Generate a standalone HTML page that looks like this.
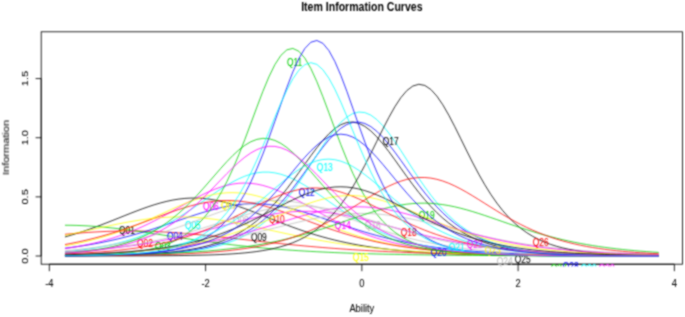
<!DOCTYPE html><html><head><meta charset="utf-8"><style>html,body{margin:0;padding:0;background:#fff;width:685px;height:317px;overflow:hidden}svg{display:block}text{font-family:"Liberation Sans",sans-serif}</style></head><body>
<svg width="685" height="317" viewBox="0 0 685 317">
<defs>
<filter id="bl" filterUnits="userSpaceOnUse" x="0" y="0" width="685" height="317" color-interpolation-filters="sRGB"><feConvolveMatrix order="3" kernelMatrix="1 2 1 2 6 2 1 2 1" divisor="18" edgeMode="duplicate"/></filter>
<filter id="tb" filterUnits="userSpaceOnUse" x="0" y="0" width="685" height="317" color-interpolation-filters="sRGB"><feConvolveMatrix order="3" kernelMatrix="1 2 1 2 8 2 1 2 1" divisor="20" edgeMode="none"/></filter>
<clipPath id="pr"><rect x="41.20" y="31.80" width="641.30" height="232.40"/></clipPath>
<clipPath id="pl"><rect x="41.20" y="31.80" width="641.30" height="234.70"/></clipPath>
</defs>
<g filter="url(#bl)"><rect width="685" height="317" fill="#fff"/>
<rect x="41.20" y="31.80" width="641.30" height="232.40" fill="none" stroke="#000" stroke-width="0.85"/>
<path d="M49.33 264.20H674.37M41.20 256.00V78.59M49.33 264.20V271.20M205.59 264.20V271.20M361.85 264.20V271.20M518.11 264.20V271.20M674.37 264.20V271.20M41.20 256.00H35.60M41.20 196.87H35.60M41.20 137.73H35.60M41.20 78.59H35.60" stroke="#000" stroke-width="0.85" fill="none"/>
<polyline clip-path="url(#pr)" fill="none" stroke-width="0.80" stroke-linejoin="round" points="64.96,236.96 70.95,235.23 76.95,233.38 82.95,231.43 88.95,229.38 94.95,227.23 100.94,224.99 106.94,222.69 112.94,220.33 118.94,217.94 124.93,215.54 130.93,213.17 136.93,210.85 142.93,208.62 148.93,206.51 154.92,204.57 160.92,202.82 166.92,201.30 172.92,200.04 178.92,199.08 184.91,198.42 190.91,198.09 196.91,198.09 202.91,198.43 208.90,199.09 214.90,200.06 220.90,201.32 226.90,202.84 232.90,204.59 238.89,206.54 244.89,208.65 250.89,210.88 256.89,213.20 262.89,215.58 268.88,217.97 274.88,220.36 280.88,222.72 286.88,225.02 292.87,227.25 298.87,229.40 304.87,231.46 310.87,233.41 316.87,235.25 322.86,236.98 328.86,238.60 334.86,240.11 340.86,241.51 346.86,242.81 352.85,244.00 358.85,245.11 364.85,246.12 370.85,247.04 376.84,247.89 382.84,248.66 388.84,249.36 394.84,250.00 400.84,250.59 406.83,251.11 412.83,251.59 418.83,252.03 424.83,252.42 430.83,252.77 436.82,253.09 442.82,253.38 448.82,253.64 454.82,253.88 460.81,254.09 466.81,254.28 472.81,254.46 478.81,254.61 484.81,254.75 490.80,254.88 496.80,254.99 502.80,255.09 508.80,255.18 514.80,255.27 520.79,255.34 526.79,255.41 532.79,255.47 538.79,255.52 544.78,255.57 550.78,255.61 556.78,255.65 562.78,255.69 568.78,255.72 574.77,255.75 580.77,255.77 586.77,255.80 592.77,255.82 598.77,255.84 604.76,255.85 610.76,255.87 616.76,255.88 622.76,255.89 628.75,255.90 634.75,255.91 640.75,255.92 646.75,255.93 652.75,255.94 658.74,255.94" stroke="#000000"/>
<g clip-path="url(#pl)"><text font-size="10.50" stroke-width="0.08" transform="translate(118.94 233.80) scale(0.800 1)" fill="#000000" stroke="#000000">Q01</text></g>
<polyline clip-path="url(#pr)" fill="none" stroke-width="0.80" stroke-linejoin="round" points="64.96,234.29 70.95,233.75 76.95,233.25 82.95,232.79 88.95,232.37 94.95,232.00 100.94,231.68 106.94,231.42 112.94,231.22 118.94,231.08 124.93,230.99 130.93,230.98 136.93,231.02 142.93,231.12 148.93,231.29 154.92,231.51 160.92,231.80 166.92,232.13 172.92,232.52 178.92,232.96 184.91,233.43 190.91,233.95 196.91,234.51 202.91,235.09 208.90,235.70 214.90,236.34 220.90,236.99 226.90,237.65 232.90,238.33 238.89,239.00 244.89,239.68 250.89,240.36 256.89,241.04 262.89,241.70 268.88,242.36 274.88,243.00 280.88,243.63 286.88,244.24 292.87,244.84 298.87,245.42 304.87,245.97 310.87,246.51 316.87,247.03 322.86,247.53 328.86,248.00 334.86,248.46 340.86,248.89 346.86,249.31 352.85,249.70 358.85,250.08 364.85,250.43 370.85,250.77 376.84,251.09 382.84,251.39 388.84,251.68 394.84,251.95 400.84,252.20 406.83,252.44 412.83,252.67 418.83,252.88 424.83,253.08 430.83,253.27 436.82,253.45 442.82,253.61 448.82,253.77 454.82,253.91 460.81,254.05 466.81,254.18 472.81,254.30 478.81,254.41 484.81,254.51 490.80,254.61 496.80,254.71 502.80,254.79 508.80,254.87 514.80,254.95 520.79,255.02 526.79,255.08 532.79,255.14 538.79,255.20 544.78,255.26 550.78,255.31 556.78,255.35 562.78,255.40 568.78,255.44 574.77,255.47 580.77,255.51 586.77,255.54 592.77,255.57 598.77,255.60 604.76,255.63 610.76,255.65 616.76,255.68 622.76,255.70 628.75,255.72 634.75,255.74 640.75,255.76 646.75,255.77 652.75,255.79 658.74,255.80" stroke="#FF0000"/>
<g clip-path="url(#pl)"><text font-size="10.50" stroke-width="0.08" transform="translate(136.93 246.88) scale(0.800 1)" fill="#FF0000" stroke="#FF0000">Q02</text></g>
<polyline clip-path="url(#pr)" fill="none" stroke-width="0.80" stroke-linejoin="round" points="64.96,225.24 70.95,225.29 76.95,225.43 82.95,225.66 88.95,225.98 94.95,226.39 100.94,226.87 106.94,227.44 112.94,228.07 118.94,228.76 124.93,229.51 130.93,230.31 136.93,231.14 142.93,232.01 148.93,232.90 154.92,233.81 160.92,234.73 166.92,235.66 172.92,236.59 178.92,237.50 184.91,238.41 190.91,239.31 196.91,240.18 202.91,241.03 208.90,241.86 214.90,242.66 220.90,243.43 226.90,244.17 232.90,244.88 238.89,245.56 244.89,246.21 250.89,246.83 256.89,247.42 262.89,247.97 268.88,248.50 274.88,248.99 280.88,249.46 286.88,249.90 292.87,250.32 298.87,250.71 304.87,251.07 310.87,251.41 316.87,251.73 322.86,252.03 328.86,252.31 334.86,252.58 340.86,252.82 346.86,253.05 352.85,253.26 358.85,253.46 364.85,253.64 370.85,253.81 376.84,253.97 382.84,254.12 388.84,254.26 394.84,254.39 400.84,254.50 406.83,254.61 412.83,254.72 418.83,254.81 424.83,254.90 430.83,254.98 436.82,255.06 442.82,255.13 448.82,255.19 454.82,255.25 460.81,255.31 466.81,255.36 472.81,255.41 478.81,255.45 484.81,255.49 490.80,255.53 496.80,255.56 502.80,255.60 508.80,255.63 514.80,255.66 520.79,255.68 526.79,255.71 532.79,255.73 538.79,255.75 544.78,255.77 550.78,255.78 556.78,255.80 562.78,255.82 568.78,255.83 574.77,255.84 580.77,255.85 586.77,255.86 592.77,255.88 598.77,255.88 604.76,255.89 610.76,255.90 616.76,255.91 622.76,255.92 628.75,255.92 634.75,255.93 640.75,255.93 646.75,255.94 652.75,255.94 658.74,255.95" stroke="#00CD00"/>
<g clip-path="url(#pl)"><text font-size="10.50" stroke-width="0.08" transform="translate(154.92 249.67) scale(0.800 1)" fill="#00CD00" stroke="#00CD00">Q03</text></g>
<polyline clip-path="url(#pr)" fill="none" stroke-width="0.80" stroke-linejoin="round" points="64.96,248.26 70.95,247.50 76.95,246.67 82.95,245.77 88.95,244.80 94.95,243.74 100.94,242.61 106.94,241.38 112.94,240.07 118.94,238.67 124.93,237.18 130.93,235.59 136.93,233.92 142.93,232.17 148.93,230.34 154.92,228.43 160.92,226.47 166.92,224.46 172.92,222.42 178.92,220.36 184.91,218.32 190.91,216.30 196.91,214.35 202.91,212.47 208.90,210.71 214.90,209.10 220.90,207.65 226.90,206.39 232.90,205.35 238.89,204.56 244.89,204.01 250.89,203.74 256.89,203.73 262.89,203.99 268.88,204.53 274.88,205.31 280.88,206.34 286.88,207.58 292.87,209.02 298.87,210.63 304.87,212.39 310.87,214.25 316.87,216.21 322.86,218.22 328.86,220.26 334.86,222.32 340.86,224.36 346.86,226.37 352.85,228.34 358.85,230.25 364.85,232.08 370.85,233.84 376.84,235.52 382.84,237.10 388.84,238.60 394.84,240.01 400.84,241.32 406.83,242.55 412.83,243.69 418.83,244.75 424.83,245.73 430.83,246.63 436.82,247.46 442.82,248.23 448.82,248.93 454.82,249.57 460.81,250.16 466.81,250.70 472.81,251.19 478.81,251.63 484.81,252.04 490.80,252.41 496.80,252.75 502.80,253.06 508.80,253.33 514.80,253.59 520.79,253.82 526.79,254.02 532.79,254.21 538.79,254.38 544.78,254.54 550.78,254.68 556.78,254.81 562.78,254.92 568.78,255.02 574.77,255.12 580.77,255.20 586.77,255.28 592.77,255.35 598.77,255.41 604.76,255.47 610.76,255.52 616.76,255.57 622.76,255.61 628.75,255.65 634.75,255.68 640.75,255.71 646.75,255.74 652.75,255.76 658.74,255.79" stroke="#0000FF"/>
<g clip-path="url(#pl)"><text font-size="10.50" stroke-width="0.08" transform="translate(166.92 240.32) scale(0.800 1)" fill="#0000FF" stroke="#0000FF">Q04</text></g>
<polyline clip-path="url(#pr)" fill="none" stroke-width="0.80" stroke-linejoin="round" points="64.96,251.69 70.95,251.12 76.95,250.47 82.95,249.73 88.95,248.90 94.95,247.97 100.94,246.92 106.94,245.75 112.94,244.43 118.94,242.96 124.93,241.33 130.93,239.51 136.93,237.50 142.93,235.28 148.93,232.85 154.92,230.18 160.92,227.29 166.92,224.16 172.92,220.80 178.92,217.22 184.91,213.45 190.91,209.50 196.91,205.43 202.91,201.27 208.90,197.10 214.90,192.98 220.90,188.99 226.90,185.22 232.90,181.76 238.89,178.72 244.89,176.16 250.89,174.17 256.89,172.81 262.89,172.13 268.88,172.15 274.88,172.86 280.88,174.25 286.88,176.26 292.87,178.84 298.87,181.91 304.87,185.38 310.87,189.16 316.87,193.16 322.86,197.28 328.86,201.46 334.86,205.61 340.86,209.68 346.86,213.62 352.85,217.39 358.85,220.95 364.85,224.30 370.85,227.42 376.84,230.31 382.84,232.96 388.84,235.39 394.84,237.60 400.84,239.60 406.83,241.41 412.83,243.03 418.83,244.50 424.83,245.80 430.83,246.97 436.82,248.01 442.82,248.94 448.82,249.77 454.82,250.50 460.81,251.14 466.81,251.72 472.81,252.23 478.81,252.68 484.81,253.07 490.80,253.42 496.80,253.73 502.80,254.00 508.80,254.24 514.80,254.45 520.79,254.64 526.79,254.80 532.79,254.95 538.79,255.07 544.78,255.19 550.78,255.28 556.78,255.37 562.78,255.45 568.78,255.51 574.77,255.57 580.77,255.62 586.77,255.67 592.77,255.71 598.77,255.75 604.76,255.78 610.76,255.80 616.76,255.83 622.76,255.85 628.75,255.87 634.75,255.88 640.75,255.90 646.75,255.91 652.75,255.92 658.74,255.93" stroke="#00FFFF"/>
<g clip-path="url(#pl)"><text font-size="10.50" stroke-width="0.08" transform="translate(184.91 229.31) scale(0.800 1)" fill="#00FFFF" stroke="#00FFFF">Q05</text></g>
<polyline clip-path="url(#pr)" fill="none" stroke-width="0.80" stroke-linejoin="round" points="64.96,248.54 70.95,247.64 76.95,246.64 82.95,245.53 88.95,244.30 94.95,242.94 100.94,241.44 106.94,239.79 112.94,237.99 118.94,236.02 124.93,233.88 130.93,231.56 136.93,229.07 142.93,226.40 148.93,223.57 154.92,220.58 160.92,217.45 166.92,214.20 172.92,210.87 178.92,207.49 184.91,204.11 190.91,200.78 196.91,197.56 202.91,194.51 208.90,191.70 214.90,189.18 220.90,187.04 226.90,185.30 232.90,184.04 238.89,183.27 244.89,183.03 250.89,183.31 256.89,184.12 262.89,185.42 268.88,187.19 274.88,189.37 280.88,191.91 286.88,194.74 292.87,197.81 298.87,201.04 304.87,204.37 310.87,207.76 316.87,211.13 322.86,214.46 328.86,217.70 334.86,220.82 340.86,223.80 346.86,226.62 352.85,229.27 358.85,231.75 364.85,234.05 370.85,236.18 376.84,238.13 382.84,239.93 388.84,241.56 394.84,243.05 400.84,244.40 406.83,245.62 412.83,246.72 418.83,247.71 424.83,248.60 430.83,249.41 436.82,250.12 442.82,250.77 448.82,251.34 454.82,251.86 460.81,252.32 466.81,252.72 472.81,253.09 478.81,253.41 484.81,253.70 490.80,253.96 496.80,254.19 502.80,254.39 508.80,254.57 514.80,254.73 520.79,254.88 526.79,255.00 532.79,255.12 538.79,255.22 544.78,255.30 550.78,255.38 556.78,255.45 562.78,255.51 568.78,255.57 574.77,255.62 580.77,255.66 586.77,255.70 592.77,255.73 598.77,255.76 604.76,255.79 610.76,255.81 616.76,255.84 622.76,255.85 628.75,255.87 634.75,255.89 640.75,255.90 646.75,255.91 652.75,255.92 658.74,255.93" stroke="#FF00FF"/>
<g clip-path="url(#pl)"><text font-size="10.50" stroke-width="0.08" transform="translate(202.91 210.37) scale(0.800 1)" fill="#FF00FF" stroke="#FF00FF">Q06</text></g>
<polyline clip-path="url(#pr)" fill="none" stroke-width="0.80" stroke-linejoin="round" points="64.96,245.85 70.95,244.76 76.95,243.56 82.95,242.25 88.95,240.82 94.95,239.27 100.94,237.60 106.94,235.79 112.94,233.85 118.94,231.77 124.93,229.57 130.93,227.24 136.93,224.80 142.93,222.25 148.93,219.62 154.92,216.92 160.92,214.19 166.92,211.45 172.92,208.74 178.92,206.11 184.91,203.58 190.91,201.22 196.91,199.07 202.91,197.16 208.90,195.54 214.90,194.26 220.90,193.33 226.90,192.78 232.90,192.63 238.89,192.88 244.89,193.52 250.89,194.54 256.89,195.91 262.89,197.60 268.88,199.58 274.88,201.79 280.88,204.20 286.88,206.75 292.87,209.41 298.87,212.12 304.87,214.86 310.87,217.59 316.87,220.27 322.86,222.89 328.86,225.41 334.86,227.83 340.86,230.13 346.86,232.30 352.85,234.34 358.85,236.25 364.85,238.02 370.85,239.67 376.84,241.19 382.84,242.59 388.84,243.87 394.84,245.04 400.84,246.11 406.83,247.08 412.83,247.97 418.83,248.77 424.83,249.50 430.83,250.16 436.82,250.75 442.82,251.29 448.82,251.77 454.82,252.21 460.81,252.60 466.81,252.95 472.81,253.27 478.81,253.56 484.81,253.81 490.80,254.04 496.80,254.25 502.80,254.43 508.80,254.59 514.80,254.74 520.79,254.87 526.79,254.99 532.79,255.10 538.79,255.19 544.78,255.28 550.78,255.36 556.78,255.42 562.78,255.49 568.78,255.54 574.77,255.59 580.77,255.63 586.77,255.67 592.77,255.71 598.77,255.74 604.76,255.77 610.76,255.79 616.76,255.81 622.76,255.83 628.75,255.85 634.75,255.87 640.75,255.88 646.75,255.89 652.75,255.90 658.74,255.91" stroke="#FFFF00"/>
<g clip-path="url(#pl)"><text font-size="10.50" stroke-width="0.08" transform="translate(220.90 209.19) scale(0.800 1)" fill="#FFFF00" stroke="#FFFF00">Q07</text></g>
<polyline clip-path="url(#pr)" fill="none" stroke-width="0.80" stroke-linejoin="round" points="64.96,250.77 70.95,250.22 76.95,249.62 82.95,248.95 88.95,248.23 94.95,247.44 100.94,246.57 106.94,245.63 112.94,244.60 118.94,243.49 124.93,242.29 130.93,240.99 136.93,239.59 142.93,238.09 148.93,236.49 154.92,234.78 160.92,232.98 166.92,231.08 172.92,229.09 178.92,227.02 184.91,224.88 190.91,222.69 196.91,220.46 202.91,218.22 208.90,215.98 214.90,213.78 220.90,211.65 226.90,209.61 232.90,207.70 238.89,205.96 244.89,204.41 250.89,203.09 256.89,202.02 262.89,201.22 268.88,200.71 274.88,200.51 280.88,200.61 286.88,201.01 292.87,201.71 298.87,202.70 304.87,203.93 310.87,205.41 316.87,207.09 322.86,208.94 328.86,210.94 334.86,213.04 340.86,215.22 346.86,217.45 352.85,219.69 358.85,221.93 364.85,224.14 370.85,226.30 376.84,228.39 382.84,230.41 388.84,232.34 394.84,234.18 400.84,235.92 406.83,237.55 412.83,239.09 418.83,240.52 424.83,241.85 430.83,243.09 436.82,244.23 442.82,245.29 448.82,246.26 454.82,247.15 460.81,247.97 466.81,248.71 472.81,249.40 478.81,250.02 484.81,250.59 490.80,251.10 496.80,251.57 502.80,252.00 508.80,252.38 514.80,252.73 520.79,253.05 526.79,253.34 532.79,253.60 538.79,253.83 544.78,254.05 550.78,254.24 556.78,254.41 562.78,254.57 568.78,254.71 574.77,254.84 580.77,254.95 586.77,255.06 592.77,255.15 598.77,255.23 604.76,255.31 610.76,255.38 616.76,255.44 622.76,255.50 628.75,255.55 634.75,255.59 640.75,255.63 646.75,255.67 652.75,255.70 658.74,255.73" stroke="#BEBEBE"/>
<g clip-path="url(#pl)"><text font-size="10.50" stroke-width="0.08" transform="translate(232.90 223.56) scale(0.800 1)" fill="#BEBEBE" stroke="#BEBEBE">Q08</text></g>
<polyline clip-path="url(#pr)" fill="none" stroke-width="0.80" stroke-linejoin="round" points="64.96,255.78 70.95,255.74 76.95,255.70 82.95,255.64 88.95,255.58 94.95,255.51 100.94,255.42 106.94,255.32 112.94,255.19 118.94,255.05 124.93,254.88 130.93,254.69 136.93,254.46 142.93,254.18 148.93,253.86 154.92,253.49 160.92,253.05 166.92,252.53 172.92,251.92 178.92,251.21 184.91,250.38 190.91,249.40 196.91,248.27 202.91,246.94 208.90,245.40 214.90,243.60 220.90,241.52 226.90,239.12 232.90,236.35 238.89,233.17 244.89,229.54 250.89,225.41 256.89,220.75 262.89,215.51 268.88,209.68 274.88,203.27 280.88,196.27 286.88,188.75 292.87,180.79 298.87,172.52 304.87,164.10 310.87,155.75 316.87,147.74 322.86,140.34 328.86,133.85 334.86,128.55 340.86,124.70 346.86,122.49 352.85,122.04 358.85,123.36 364.85,126.39 370.85,130.98 376.84,136.90 382.84,143.88 388.84,151.62 394.84,159.83 400.84,168.24 406.83,176.61 412.83,184.75 418.83,192.50 424.83,199.78 430.83,206.49 436.82,212.62 442.82,218.15 448.82,223.11 454.82,227.50 460.81,231.38 466.81,234.79 472.81,237.76 478.81,240.34 484.81,242.58 490.80,244.52 496.80,246.18 502.80,247.62 508.80,248.85 514.80,249.90 520.79,250.80 526.79,251.57 532.79,252.23 538.79,252.79 544.78,253.27 550.78,253.68 556.78,254.03 562.78,254.32 568.78,254.57 574.77,254.79 580.77,254.97 586.77,255.12 592.77,255.26 598.77,255.37 604.76,255.46 610.76,255.54 616.76,255.61 622.76,255.67 628.75,255.72 634.75,255.76 640.75,255.80 646.75,255.83 652.75,255.85 658.74,255.88" stroke="#000000"/>
<g clip-path="url(#pl)"><text font-size="10.50" stroke-width="0.08" transform="translate(250.89 241.27) scale(0.800 1)" fill="#000000" stroke="#000000">Q09</text></g>
<polyline clip-path="url(#pr)" fill="none" stroke-width="0.80" stroke-linejoin="round" points="64.96,244.52 70.95,243.40 76.95,242.19 82.95,240.88 88.95,239.48 94.95,237.97 100.94,236.36 106.94,234.65 112.94,232.84 118.94,230.93 124.93,228.94 130.93,226.86 136.93,224.72 142.93,222.52 148.93,220.29 154.92,218.04 160.92,215.81 166.92,213.61 172.92,211.49 178.92,209.46 184.91,207.57 190.91,205.84 196.91,204.30 202.91,203.00 208.90,201.95 214.90,201.17 220.90,200.69 226.90,200.51 232.90,200.63 238.89,201.06 244.89,201.78 250.89,202.78 256.89,204.04 262.89,205.53 268.88,207.22 274.88,209.09 280.88,211.09 286.88,213.20 292.87,215.39 298.87,217.62 304.87,219.86 310.87,222.10 316.87,224.31 322.86,226.46 328.86,228.55 334.86,230.56 340.86,232.49 346.86,234.31 352.85,236.04 358.85,237.67 364.85,239.20 370.85,240.62 376.84,241.95 382.84,243.18 388.84,244.32 394.84,245.36 400.84,246.33 406.83,247.21 412.83,248.03 418.83,248.77 424.83,249.45 430.83,250.06 436.82,250.63 442.82,251.14 448.82,251.61 454.82,252.03 460.81,252.41 466.81,252.76 472.81,253.07 478.81,253.36 484.81,253.62 490.80,253.85 496.80,254.06 502.80,254.25 508.80,254.42 514.80,254.58 520.79,254.72 526.79,254.85 532.79,254.96 538.79,255.06 544.78,255.16 550.78,255.24 556.78,255.31 562.78,255.38 568.78,255.44 574.77,255.50 580.77,255.55 586.77,255.59 592.77,255.63 598.77,255.67 604.76,255.70 610.76,255.73 616.76,255.76 622.76,255.78 628.75,255.81 634.75,255.82 640.75,255.84 646.75,255.86 652.75,255.87 658.74,255.88" stroke="#FF0000"/>
<g clip-path="url(#pl)"><text font-size="10.50" stroke-width="0.08" transform="translate(268.88 223.08) scale(0.800 1)" fill="#FF0000" stroke="#FF0000">Q10</text></g>
<polyline clip-path="url(#pr)" fill="none" stroke-width="0.80" stroke-linejoin="round" points="64.96,255.62 70.95,255.54 76.95,255.43 82.95,255.31 88.95,255.15 94.95,254.96 100.94,254.72 106.94,254.44 112.94,254.09 118.94,253.66 124.93,253.13 130.93,252.49 136.93,251.71 142.93,250.75 148.93,249.58 154.92,248.16 160.92,246.44 166.92,244.34 172.92,241.80 178.92,238.73 184.91,235.04 190.91,230.61 196.91,225.32 202.91,219.04 208.90,211.64 214.90,202.99 220.90,193.00 226.90,181.59 232.90,168.76 238.89,154.61 244.89,139.35 250.89,123.34 256.89,107.12 262.89,91.37 268.88,76.92 274.88,64.64 280.88,55.38 286.88,49.83 292.87,48.43 298.87,51.28 304.87,58.17 310.87,68.56 316.87,81.68 322.86,96.67 328.86,112.67 334.86,128.89 340.86,144.69 346.86,159.60 352.85,173.32 358.85,185.66 364.85,196.59 370.85,206.11 376.84,214.31 382.84,221.31 388.84,227.24 394.84,232.22 400.84,236.38 406.83,239.85 412.83,242.73 418.83,245.11 424.83,247.07 430.83,248.68 436.82,250.01 442.82,251.10 448.82,251.99 454.82,252.72 460.81,253.32 466.81,253.81 472.81,254.21 478.81,254.54 484.81,254.81 490.80,255.03 496.80,255.21 502.80,255.35 508.80,255.47 514.80,255.57 520.79,255.65 526.79,255.71 532.79,255.77 538.79,255.81 544.78,255.84 550.78,255.87 556.78,255.90 562.78,255.92 568.78,255.93 574.77,255.94 580.77,255.95 586.77,255.96 592.77,255.97 598.77,255.97 604.76,255.98 610.76,255.98 616.76,255.99 622.76,255.99 628.75,255.99 634.75,255.99 640.75,255.99 646.75,256.00 652.75,256.00 658.74,256.00" stroke="#00CD00"/>
<g clip-path="url(#pl)"><text font-size="10.50" stroke-width="0.08" transform="translate(286.88 65.69) scale(0.800 1)" fill="#00CD00" stroke="#00CD00">Q11</text></g>
<polyline clip-path="url(#pr)" fill="none" stroke-width="0.80" stroke-linejoin="round" points="64.96,255.81 70.95,255.78 76.95,255.74 82.95,255.69 88.95,255.64 94.95,255.58 100.94,255.50 106.94,255.41 112.94,255.31 118.94,255.19 124.93,255.04 130.93,254.87 136.93,254.67 142.93,254.44 148.93,254.16 154.92,253.84 160.92,253.46 166.92,253.02 172.92,252.49 178.92,251.88 184.91,251.16 190.91,250.32 196.91,249.34 202.91,248.19 208.90,246.85 214.90,245.29 220.90,243.48 226.90,241.39 232.90,238.96 238.89,236.17 244.89,232.96 250.89,229.30 256.89,225.14 262.89,220.44 268.88,215.17 274.88,209.30 280.88,202.85 286.88,195.82 292.87,188.27 298.87,180.28 304.87,171.99 310.87,163.57 316.87,155.24 322.86,147.26 328.86,139.90 334.86,133.48 340.86,128.26 346.86,124.51 352.85,122.41 358.85,122.07 364.85,123.50 370.85,126.64 376.84,131.31 382.84,137.31 388.84,144.34 394.84,152.12 400.84,160.35 406.83,168.76 412.83,177.12 418.83,185.24 424.83,192.97 430.83,200.21 436.82,206.89 442.82,212.98 448.82,218.48 454.82,223.40 460.81,227.76 466.81,231.61 472.81,234.99 478.81,237.93 484.81,240.49 490.80,242.71 496.80,244.63 502.80,246.28 508.80,247.70 514.80,248.92 520.79,249.96 526.79,250.85 532.79,251.62 538.79,252.27 544.78,252.82 550.78,253.30 556.78,253.70 562.78,254.05 568.78,254.34 574.77,254.59 580.77,254.80 586.77,254.98 592.77,255.13 598.77,255.26 604.76,255.37 610.76,255.47 616.76,255.55 622.76,255.62 628.75,255.67 634.75,255.72 640.75,255.77 646.75,255.80 652.75,255.83 658.74,255.86" stroke="#0000FF"/>
<g clip-path="url(#pl)"><text font-size="10.50" stroke-width="0.08" transform="translate(298.87 196.14) scale(0.800 1)" fill="#0000FF" stroke="#0000FF">Q12</text></g>
<polyline clip-path="url(#pr)" fill="none" stroke-width="0.80" stroke-linejoin="round" points="64.96,255.86 70.95,255.84 76.95,255.81 82.95,255.77 88.95,255.73 94.95,255.68 100.94,255.62 106.94,255.55 112.94,255.47 118.94,255.37 124.93,255.26 130.93,255.12 136.93,254.96 142.93,254.76 148.93,254.54 154.92,254.27 160.92,253.95 166.92,253.58 172.92,253.13 178.92,252.61 184.91,251.99 190.91,251.26 196.91,250.41 202.91,249.40 208.90,248.21 214.90,246.82 220.90,245.19 226.90,243.29 232.90,241.06 238.89,238.48 244.89,235.48 250.89,232.02 256.89,228.05 262.89,223.51 268.88,218.34 274.88,212.53 280.88,206.03 286.88,198.85 292.87,191.01 298.87,182.56 304.87,173.63 310.87,164.36 316.87,154.98 322.86,145.76 328.86,137.00 334.86,129.07 340.86,122.30 346.86,117.04 352.85,113.56 358.85,112.04 364.85,112.58 370.85,115.14 376.84,119.58 382.84,125.66 388.84,133.08 394.84,141.49 400.84,150.53 406.83,159.87 412.83,169.22 418.83,178.34 424.83,187.03 430.83,195.17 436.82,202.68 442.82,209.50 448.82,215.64 454.82,221.11 460.81,225.95 466.81,230.19 472.81,233.89 478.81,237.10 484.81,239.88 490.80,242.27 496.80,244.32 502.80,246.07 508.80,247.57 514.80,248.85 520.79,249.94 526.79,250.87 532.79,251.66 538.79,252.33 544.78,252.89 550.78,253.37 556.78,253.78 562.78,254.12 568.78,254.41 574.77,254.66 580.77,254.87 586.77,255.04 592.77,255.19 598.77,255.32 604.76,255.42 610.76,255.51 616.76,255.59 622.76,255.65 628.75,255.71 634.75,255.75 640.75,255.79 646.75,255.82 652.75,255.85 658.74,255.87" stroke="#00FFFF"/>
<g clip-path="url(#pl)"><text font-size="10.50" stroke-width="0.08" transform="translate(316.87 170.84) scale(0.800 1)" fill="#00FFFF" stroke="#00FFFF">Q13</text></g>
<polyline clip-path="url(#pr)" fill="none" stroke-width="0.80" stroke-linejoin="round" points="64.96,252.13 70.95,251.76 76.95,251.37 82.95,250.93 88.95,250.46 94.95,249.95 100.94,249.40 106.94,248.80 112.94,248.15 118.94,247.46 124.93,246.70 130.93,245.89 136.93,245.02 142.93,244.09 148.93,243.10 154.92,242.03 160.92,240.91 166.92,239.71 172.92,238.46 178.92,237.13 184.91,235.75 190.91,234.30 196.91,232.81 202.91,231.27 208.90,229.69 214.90,228.08 220.90,226.46 226.90,224.84 232.90,223.22 238.89,221.64 244.89,220.11 250.89,218.64 256.89,217.25 262.89,215.97 268.88,214.80 274.88,213.78 280.88,212.92 286.88,212.22 292.87,211.71 298.87,211.39 304.87,211.27 310.87,211.34 316.87,211.62 322.86,212.08 328.86,212.73 334.86,213.56 340.86,214.54 346.86,215.67 352.85,216.93 358.85,218.29 364.85,219.74 370.85,221.27 376.84,222.84 382.84,224.44 388.84,226.07 394.84,227.69 400.84,229.30 406.83,230.89 412.83,232.44 418.83,233.95 424.83,235.40 430.83,236.80 436.82,238.14 442.82,239.42 448.82,240.63 454.82,241.77 460.81,242.84 466.81,243.86 472.81,244.80 478.81,245.69 484.81,246.51 490.80,247.28 496.80,247.99 502.80,248.65 508.80,249.26 514.80,249.82 520.79,250.34 526.79,250.82 532.79,251.26 538.79,251.67 544.78,252.04 550.78,252.38 556.78,252.70 562.78,252.98 568.78,253.25 574.77,253.49 580.77,253.71 586.77,253.91 592.77,254.10 598.77,254.26 604.76,254.42 610.76,254.56 616.76,254.69 622.76,254.80 628.75,254.91 634.75,255.01 640.75,255.09 646.75,255.18 652.75,255.25 658.74,255.32" stroke="#FF00FF"/>
<g clip-path="url(#pl)"><text font-size="10.50" stroke-width="0.08" transform="translate(334.86 229.42) scale(0.800 1)" fill="#FF00FF" stroke="#FF00FF">Q14</text></g>
<polyline clip-path="url(#pr)" fill="none" stroke-width="0.80" stroke-linejoin="round" points="64.96,235.44 70.95,234.17 76.95,232.88 82.95,231.56 88.95,230.24 94.95,228.91 100.94,227.59 106.94,226.29 112.94,225.02 118.94,223.80 124.93,222.64 130.93,221.55 136.93,220.55 142.93,219.64 148.93,218.85 154.92,218.18 160.92,217.64 166.92,217.25 172.92,217.00 178.92,216.90 184.91,216.95 190.91,217.16 196.91,217.51 202.91,218.01 208.90,218.64 214.90,219.39 220.90,220.27 226.90,221.24 232.90,222.31 238.89,223.45 244.89,224.66 250.89,225.91 256.89,227.20 262.89,228.52 268.88,229.84 274.88,231.17 280.88,232.49 286.88,233.79 292.87,235.06 298.87,236.31 304.87,237.51 310.87,238.68 316.87,239.79 322.86,240.86 328.86,241.89 334.86,242.86 340.86,243.78 346.86,244.65 352.85,245.47 358.85,246.24 364.85,246.96 370.85,247.64 376.84,248.27 382.84,248.86 388.84,249.41 394.84,249.92 400.84,250.40 406.83,250.84 412.83,251.25 418.83,251.63 424.83,251.98 430.83,252.30 436.82,252.60 442.82,252.87 448.82,253.13 454.82,253.36 460.81,253.58 466.81,253.78 472.81,253.96 478.81,254.13 484.81,254.28 490.80,254.42 496.80,254.56 502.80,254.68 508.80,254.79 514.80,254.89 520.79,254.98 526.79,255.06 532.79,255.14 538.79,255.21 544.78,255.28 550.78,255.34 556.78,255.40 562.78,255.45 568.78,255.49 574.77,255.54 580.77,255.57 586.77,255.61 592.77,255.64 598.77,255.67 604.76,255.70 610.76,255.73 616.76,255.75 622.76,255.77 628.75,255.79 634.75,255.81 640.75,255.82 646.75,255.84 652.75,255.85 658.74,255.86" stroke="#FFFF00"/>
<g clip-path="url(#pl)"><text font-size="10.50" stroke-width="0.08" transform="translate(352.85 261.33) scale(0.800 1)" fill="#FFFF00" stroke="#FFFF00">Q15</text></g>
<polyline clip-path="url(#pr)" fill="none" stroke-width="0.80" stroke-linejoin="round" points="64.96,254.25 70.95,254.09 76.95,253.91 82.95,253.71 88.95,253.50 94.95,253.27 100.94,253.01 106.94,252.74 112.94,252.43 118.94,252.11 124.93,251.75 130.93,251.36 136.93,250.94 142.93,250.49 148.93,249.99 154.92,249.46 160.92,248.88 166.92,248.26 172.92,247.59 178.92,246.88 184.91,246.10 190.91,245.28 196.91,244.39 202.91,243.45 208.90,242.45 214.90,241.39 220.90,240.27 226.90,239.09 232.90,237.85 238.89,236.56 244.89,235.21 250.89,233.82 256.89,232.39 262.89,230.92 268.88,229.43 274.88,227.92 280.88,226.41 286.88,224.92 292.87,223.44 298.87,222.01 304.87,220.64 310.87,219.34 316.87,218.13 322.86,217.02 328.86,216.04 334.86,215.20 340.86,214.51 346.86,213.98 352.85,213.63 358.85,213.45 364.85,213.45 370.85,213.63 376.84,213.98 382.84,214.51 388.84,215.20 394.84,216.04 400.84,217.02 406.83,218.13 412.83,219.34 418.83,220.64 424.83,222.01 430.83,223.44 436.82,224.92 442.82,226.41 448.82,227.92 454.82,229.43 460.81,230.92 466.81,232.39 472.81,233.82 478.81,235.21 484.81,236.56 490.80,237.85 496.80,239.09 502.80,240.27 508.80,241.39 514.80,242.45 520.79,243.45 526.79,244.39 532.79,245.28 538.79,246.10 544.78,246.88 550.78,247.59 556.78,248.26 562.78,248.88 568.78,249.46 574.77,249.99 580.77,250.49 586.77,250.94 592.77,251.36 598.77,251.75 604.76,252.11 610.76,252.43 616.76,252.74 622.76,253.01 628.75,253.27 634.75,253.50 640.75,253.71 646.75,253.91 652.75,254.09 658.74,254.25" stroke="#BEBEBE"/>
<g clip-path="url(#pl)"><text font-size="10.50" stroke-width="0.08" transform="translate(364.85 229.31) scale(0.800 1)" fill="#BEBEBE" stroke="#BEBEBE">Q16</text></g>
<polyline clip-path="url(#pr)" fill="none" stroke-width="0.80" stroke-linejoin="round" points="64.96,255.99 70.95,255.99 76.95,255.98 82.95,255.98 88.95,255.97 94.95,255.97 100.94,255.96 106.94,255.96 112.94,255.95 118.94,255.94 124.93,255.92 130.93,255.91 136.93,255.89 142.93,255.86 148.93,255.84 154.92,255.80 160.92,255.76 166.92,255.72 172.92,255.66 178.92,255.59 184.91,255.50 190.91,255.40 196.91,255.28 202.91,255.14 208.90,254.96 214.90,254.75 220.90,254.50 226.90,254.20 232.90,253.84 238.89,253.40 244.89,252.88 250.89,252.25 256.89,251.50 262.89,250.59 268.88,249.52 274.88,248.23 280.88,246.69 286.88,244.86 292.87,242.69 298.87,240.11 304.87,237.07 310.87,233.48 316.87,229.27 322.86,224.36 328.86,218.67 334.86,212.12 340.86,204.65 346.86,196.20 352.85,186.79 358.85,176.44 364.85,165.27 370.85,153.46 376.84,141.29 382.84,129.14 388.84,117.47 394.84,106.79 400.84,97.65 406.83,90.59 412.83,86.04 418.83,84.28 424.83,85.45 430.83,89.46 436.82,96.06 442.82,104.81 448.82,115.22 454.82,126.74 460.81,138.84 466.81,151.04 472.81,162.94 478.81,174.26 484.81,184.78 490.80,194.39 496.80,203.03 502.80,210.70 508.80,217.43 514.80,223.29 520.79,228.35 526.79,232.69 532.79,236.39 538.79,239.54 544.78,242.21 550.78,244.46 556.78,246.35 562.78,247.94 568.78,249.28 574.77,250.39 580.77,251.33 586.77,252.11 592.77,252.76 598.77,253.30 604.76,253.75 610.76,254.13 616.76,254.45 622.76,254.71 628.75,254.93 634.75,255.11 640.75,255.26 646.75,255.38 652.75,255.49 658.74,255.57" stroke="#000000"/>
<g clip-path="url(#pl)"><text font-size="10.50" stroke-width="0.08" transform="translate(382.84 145.00) scale(0.800 1)" fill="#000000" stroke="#000000">Q17</text></g>
<polyline clip-path="url(#pr)" fill="none" stroke-width="0.80" stroke-linejoin="round" points="64.96,253.91 70.95,253.66 76.95,253.37 82.95,253.06 88.95,252.70 94.95,252.31 100.94,251.86 106.94,251.37 112.94,250.82 118.94,250.21 124.93,249.53 130.93,248.77 136.93,247.94 142.93,247.01 148.93,245.98 154.92,244.85 160.92,243.60 166.92,242.24 172.92,240.74 178.92,239.10 184.91,237.33 190.91,235.40 196.91,233.32 202.91,231.08 208.90,228.70 214.90,226.17 220.90,223.49 226.90,220.70 232.90,217.80 238.89,214.82 244.89,211.78 250.89,208.74 256.89,205.71 262.89,202.77 268.88,199.95 274.88,197.31 280.88,194.90 286.88,192.78 292.87,190.99 298.87,189.59 304.87,188.61 310.87,188.06 316.87,187.98 322.86,188.35 328.86,189.18 334.86,190.43 340.86,192.08 346.86,194.08 352.85,196.39 358.85,198.95 364.85,201.71 370.85,204.62 376.84,207.62 382.84,210.66 388.84,213.70 394.84,216.71 400.84,219.64 406.83,222.48 412.83,225.20 418.83,227.78 424.83,230.22 430.83,232.51 436.82,234.65 442.82,236.63 448.82,238.47 454.82,240.15 460.81,241.70 466.81,243.12 472.81,244.41 478.81,245.58 484.81,246.64 490.80,247.60 496.80,248.48 502.80,249.26 508.80,249.97 514.80,250.60 520.79,251.18 526.79,251.69 532.79,252.15 538.79,252.56 544.78,252.93 550.78,253.26 556.78,253.56 562.78,253.82 568.78,254.06 574.77,254.27 580.77,254.46 586.77,254.62 592.77,254.77 598.77,254.91 604.76,255.03 610.76,255.13 616.76,255.23 622.76,255.31 628.75,255.39 634.75,255.45 640.75,255.51 646.75,255.57 652.75,255.62 658.74,255.66" stroke="#FF0000"/>
<g clip-path="url(#pl)"><text font-size="10.50" stroke-width="0.08" transform="translate(400.84 235.50) scale(0.800 1)" fill="#FF0000" stroke="#FF0000">Q18</text></g>
<polyline clip-path="url(#pr)" fill="none" stroke-width="0.80" stroke-linejoin="round" points="64.96,255.54 70.95,255.49 76.95,255.44 82.95,255.38 88.95,255.31 94.95,255.24 100.94,255.16 106.94,255.06 112.94,254.96 118.94,254.85 124.93,254.73 130.93,254.60 136.93,254.45 142.93,254.28 148.93,254.10 154.92,253.90 160.92,253.68 166.92,253.43 172.92,253.16 178.92,252.86 184.91,252.53 190.91,252.17 196.91,251.78 202.91,251.34 208.90,250.86 214.90,250.34 220.90,249.76 226.90,249.13 232.90,248.45 238.89,247.70 244.89,246.88 250.89,245.99 256.89,245.03 262.89,243.99 268.88,242.86 274.88,241.65 280.88,240.35 286.88,238.95 292.87,237.47 298.87,235.89 304.87,234.22 310.87,232.46 316.87,230.62 322.86,228.71 328.86,226.73 334.86,224.70 340.86,222.63 346.86,220.54 352.85,218.46 358.85,216.40 364.85,214.40 370.85,212.47 376.84,210.66 382.84,208.97 388.84,207.46 394.84,206.14 400.84,205.03 406.83,204.17 412.83,203.56 418.83,203.22 424.83,203.16 430.83,203.37 436.82,203.86 442.82,204.61 448.82,205.61 454.82,206.84 460.81,208.27 466.81,209.88 472.81,211.64 478.81,213.52 484.81,215.49 490.80,217.53 496.80,219.60 502.80,221.69 508.80,223.77 514.80,225.82 520.79,227.82 526.79,229.76 532.79,231.64 538.79,233.43 544.78,235.14 550.78,236.76 556.78,238.29 562.78,239.73 568.78,241.07 574.77,242.32 580.77,243.49 586.77,244.57 592.77,245.57 598.77,246.49 604.76,247.34 610.76,248.12 616.76,248.83 622.76,249.49 628.75,250.08 634.75,250.63 640.75,251.13 646.75,251.59 652.75,252.00 658.74,252.38" stroke="#00CD00"/>
<g clip-path="url(#pl)"><text font-size="10.50" stroke-width="0.08" transform="translate(418.83 219.08) scale(0.800 1)" fill="#00CD00" stroke="#00CD00">Q19</text></g>
<polyline clip-path="url(#pr)" fill="none" stroke-width="0.80" stroke-linejoin="round" points="64.96,255.85 70.95,255.82 76.95,255.78 82.95,255.73 88.95,255.66 94.95,255.59 100.94,255.49 106.94,255.38 112.94,255.23 118.94,255.06 124.93,254.84 130.93,254.57 136.93,254.25 142.93,253.84 148.93,253.35 154.92,252.74 160.92,252.00 166.92,251.09 172.92,249.98 178.92,248.61 184.91,246.95 190.91,244.92 196.91,242.44 202.91,239.44 208.90,235.81 214.90,231.44 220.90,226.18 226.90,219.92 232.90,212.49 238.89,203.76 244.89,193.60 250.89,181.93 256.89,168.73 262.89,154.07 268.88,138.15 274.88,121.33 280.88,104.16 286.88,87.38 292.87,71.86 298.87,58.57 304.87,48.43 310.87,42.23 316.87,40.49 322.86,43.33 328.86,50.54 334.86,61.51 340.86,75.43 346.86,91.34 352.85,108.29 358.85,125.43 364.85,142.08 370.85,157.72 376.84,172.05 382.84,184.88 388.84,196.18 394.84,205.99 400.84,214.39 406.83,221.53 412.83,227.54 418.83,232.57 424.83,236.75 430.83,240.22 436.82,243.08 442.82,245.44 448.82,247.38 454.82,248.97 460.81,250.27 466.81,251.33 472.81,252.19 478.81,252.90 484.81,253.48 490.80,253.95 496.80,254.33 502.80,254.64 508.80,254.90 514.80,255.10 520.79,255.27 526.79,255.41 532.79,255.52 538.79,255.61 544.78,255.68 550.78,255.74 556.78,255.79 562.78,255.83 568.78,255.86 574.77,255.89 580.77,255.91 586.77,255.93 592.77,255.94 598.77,255.95 604.76,255.96 610.76,255.97 616.76,255.97 622.76,255.98 628.75,255.98 634.75,255.99 640.75,255.99 646.75,255.99 652.75,255.99 658.74,255.99" stroke="#0000FF"/>
<g clip-path="url(#pl)"><text font-size="10.50" stroke-width="0.08" transform="translate(430.83 256.08) scale(0.800 1)" fill="#0000FF" stroke="#0000FF">Q20</text></g>
<polyline clip-path="url(#pr)" fill="none" stroke-width="0.80" stroke-linejoin="round" points="64.96,255.13 70.95,255.01 76.95,254.86 82.95,254.69 88.95,254.50 94.95,254.27 100.94,254.02 106.94,253.73 112.94,253.39 118.94,253.01 124.93,252.57 130.93,252.07 136.93,251.50 142.93,250.85 148.93,250.11 154.92,249.26 160.92,248.29 166.92,247.20 172.92,245.96 178.92,244.55 184.91,242.96 190.91,241.17 196.91,239.16 202.91,236.91 208.90,234.40 214.90,231.62 220.90,228.54 226.90,225.15 232.90,221.46 238.89,217.46 244.89,213.15 250.89,208.57 256.89,203.75 262.89,198.74 268.88,193.60 274.88,188.42 280.88,183.31 286.88,178.37 292.87,173.74 298.87,169.54 304.87,165.91 310.87,162.96 316.87,160.80 322.86,159.51 328.86,159.14 334.86,159.70 340.86,161.17 346.86,163.50 352.85,166.59 358.85,170.35 364.85,174.65 370.85,179.35 376.84,184.34 382.84,189.47 388.84,194.65 394.84,199.77 400.84,204.75 406.83,209.52 412.83,214.05 418.83,218.29 424.83,222.23 430.83,225.86 436.82,229.19 442.82,232.20 448.82,234.93 454.82,237.39 460.81,239.59 466.81,241.55 472.81,243.30 478.81,244.85 484.81,246.22 490.80,247.43 496.80,248.50 502.80,249.44 508.80,250.26 514.80,250.99 520.79,251.62 526.79,252.18 532.79,252.67 538.79,253.09 544.78,253.47 550.78,253.79 556.78,254.07 562.78,254.32 568.78,254.54 574.77,254.73 580.77,254.89 586.77,255.03 592.77,255.16 598.77,255.27 604.76,255.36 610.76,255.44 616.76,255.52 622.76,255.58 628.75,255.63 634.75,255.68 640.75,255.72 646.75,255.76 652.75,255.79 658.74,255.82" stroke="#00FFFF"/>
<g clip-path="url(#pl)"><text font-size="10.50" stroke-width="0.08" transform="translate(448.82 250.79) scale(0.800 1)" fill="#00FFFF" stroke="#00FFFF">Q21</text></g>
<polyline clip-path="url(#pr)" fill="none" stroke-width="0.80" stroke-linejoin="round" points="64.96,254.46 70.95,254.31 76.95,254.13 82.95,253.94 88.95,253.74 94.95,253.51 100.94,253.25 106.94,252.98 112.94,252.67 118.94,252.34 124.93,251.97 130.93,251.57 136.93,251.14 142.93,250.66 148.93,250.14 154.92,249.57 160.92,248.95 166.92,248.27 172.92,247.54 178.92,246.75 184.91,245.89 190.91,244.96 196.91,243.96 202.91,242.89 208.90,241.74 214.90,240.51 220.90,239.20 226.90,237.81 232.90,236.34 238.89,234.79 244.89,233.17 250.89,231.48 256.89,229.73 262.89,227.93 268.88,226.09 274.88,224.23 280.88,222.35 286.88,220.49 292.87,218.65 298.87,216.87 304.87,215.15 310.87,213.54 316.87,212.05 322.86,210.70 328.86,209.53 334.86,208.54 340.86,207.76 346.86,207.21 352.85,206.88 358.85,206.80 364.85,206.96 370.85,207.35 376.84,207.98 382.84,208.82 388.84,209.86 394.84,211.09 400.84,212.48 406.83,214.02 412.83,215.66 418.83,217.40 424.83,219.20 430.83,221.05 436.82,222.92 442.82,224.80 448.82,226.65 454.82,228.48 460.81,230.27 466.81,232.00 472.81,233.67 478.81,235.27 484.81,236.79 490.80,238.24 496.80,239.60 502.80,240.89 508.80,242.09 514.80,243.22 520.79,244.27 526.79,245.25 532.79,246.16 538.79,246.99 544.78,247.77 550.78,248.48 556.78,249.14 562.78,249.74 568.78,250.30 574.77,250.81 580.77,251.27 586.77,251.70 592.77,252.09 598.77,252.44 604.76,252.77 610.76,253.06 616.76,253.33 622.76,253.58 628.75,253.80 634.75,254.00 640.75,254.19 646.75,254.36 652.75,254.51 658.74,254.65" stroke="#FF00FF"/>
<g clip-path="url(#pl)"><text font-size="10.50" stroke-width="0.08" transform="translate(466.81 247.86) scale(0.800 1)" fill="#FF00FF" stroke="#FF00FF">Q22</text></g>
<polyline clip-path="url(#pr)" fill="none" stroke-width="0.80" stroke-linejoin="round" points="64.96,254.71 70.95,254.56 76.95,254.39 82.95,254.21 88.95,254.00 94.95,253.78 100.94,253.52 106.94,253.24 112.94,252.93 118.94,252.59 124.93,252.20 130.93,251.78 136.93,251.31 142.93,250.79 148.93,250.21 154.92,249.58 160.92,248.88 166.92,248.10 172.92,247.26 178.92,246.33 184.91,245.31 190.91,244.20 196.91,242.98 202.91,241.66 208.90,240.23 214.90,238.68 220.90,237.02 226.90,235.23 232.90,233.32 238.89,231.30 244.89,229.15 250.89,226.90 256.89,224.56 262.89,222.13 268.88,219.63 274.88,217.09 280.88,214.54 286.88,212.00 292.87,209.51 298.87,207.11 304.87,204.83 310.87,202.72 316.87,200.81 322.86,199.15 328.86,197.77 334.86,196.70 340.86,195.97 346.86,195.59 352.85,195.57 358.85,195.92 364.85,196.62 370.85,197.66 376.84,199.01 382.84,200.65 388.84,202.53 394.84,204.63 400.84,206.89 406.83,209.29 412.83,211.77 418.83,214.31 424.83,216.86 430.83,219.40 436.82,221.90 442.82,224.34 448.82,226.69 454.82,228.95 460.81,231.10 466.81,233.14 472.81,235.06 478.81,236.86 484.81,238.54 490.80,240.09 496.80,241.53 502.80,242.86 508.80,244.09 514.80,245.21 520.79,246.24 526.79,247.17 532.79,248.03 538.79,248.81 544.78,249.51 550.78,250.15 556.78,250.74 562.78,251.26 568.78,251.74 574.77,252.16 580.77,252.55 586.77,252.90 592.77,253.22 598.77,253.50 604.76,253.75 610.76,253.98 616.76,254.19 622.76,254.38 628.75,254.54 634.75,254.69 640.75,254.83 646.75,254.95 652.75,255.06 658.74,255.15" stroke="#FFFF00"/>
<g clip-path="url(#pl)"><text font-size="10.50" stroke-width="0.08" transform="translate(484.81 254.40) scale(0.800 1)" fill="#FFFF00" stroke="#FFFF00">Q23</text></g>
<polyline clip-path="url(#pr)" fill="none" stroke-width="0.80" stroke-linejoin="round" points="64.96,252.11 70.95,251.72 76.95,251.30 82.95,250.83 88.95,250.32 94.95,249.76 100.94,249.15 106.94,248.49 112.94,247.77 118.94,246.99 124.93,246.14 130.93,245.22 136.93,244.23 142.93,243.17 148.93,242.02 154.92,240.80 160.92,239.49 166.92,238.10 172.92,236.63 178.92,235.08 184.91,233.45 190.91,231.74 196.91,229.98 202.91,228.15 208.90,226.28 214.90,224.38 220.90,222.46 226.90,220.55 232.90,218.66 238.89,216.81 244.89,215.03 250.89,213.35 256.89,211.78 262.89,210.36 268.88,209.11 274.88,208.05 280.88,207.19 286.88,206.56 292.87,206.18 298.87,206.03 304.87,206.14 310.87,206.49 316.87,207.08 322.86,207.90 328.86,208.93 334.86,210.15 340.86,211.55 346.86,213.09 352.85,214.76 358.85,216.52 364.85,218.36 370.85,220.25 376.84,222.16 382.84,224.08 388.84,225.98 394.84,227.86 400.84,229.69 406.83,231.47 412.83,233.18 418.83,234.82 424.83,236.39 430.83,237.87 436.82,239.28 442.82,240.60 448.82,241.83 454.82,242.99 460.81,244.07 466.81,245.07 472.81,246.00 478.81,246.86 484.81,247.65 490.80,248.38 496.80,249.05 502.80,249.67 508.80,250.23 514.80,250.75 520.79,251.22 526.79,251.66 532.79,252.05 538.79,252.41 544.78,252.74 550.78,253.04 556.78,253.32 562.78,253.57 568.78,253.79 574.77,254.00 580.77,254.18 586.77,254.35 592.77,254.51 598.77,254.65 604.76,254.77 610.76,254.89 616.76,254.99 622.76,255.09 628.75,255.17 634.75,255.25 640.75,255.32 646.75,255.39 652.75,255.44 658.74,255.50" stroke="#BEBEBE"/>
<g clip-path="url(#pl)"><text font-size="10.50" stroke-width="0.08" transform="translate(496.80 264.91) scale(0.800 1)" fill="#BEBEBE" stroke="#BEBEBE">Q24</text></g>
<polyline clip-path="url(#pr)" fill="none" stroke-width="0.80" stroke-linejoin="round" points="64.96,254.75 70.95,254.60 76.95,254.43 82.95,254.23 88.95,254.02 94.95,253.77 100.94,253.50 106.94,253.19 112.94,252.85 118.94,252.47 124.93,252.04 130.93,251.57 136.93,251.03 142.93,250.44 148.93,249.78 154.92,249.04 160.92,248.23 166.92,247.32 172.92,246.32 178.92,245.21 184.91,243.98 190.91,242.64 196.91,241.16 202.91,239.55 208.90,237.78 214.90,235.87 220.90,233.80 226.90,231.57 232.90,229.19 238.89,226.64 244.89,223.96 250.89,221.13 256.89,218.19 262.89,215.16 268.88,212.06 274.88,208.93 280.88,205.82 286.88,202.77 292.87,199.83 298.87,197.06 304.87,194.52 310.87,192.25 316.87,190.32 322.86,188.78 328.86,187.66 334.86,186.99 340.86,186.79 346.86,187.06 352.85,187.81 358.85,189.00 364.85,190.62 370.85,192.60 376.84,194.92 382.84,197.50 388.84,200.30 394.84,203.27 400.84,206.33 406.83,209.45 412.83,212.57 418.83,215.66 424.83,218.68 430.83,221.61 436.82,224.41 442.82,227.07 448.82,229.59 454.82,231.95 460.81,234.15 466.81,236.20 472.81,238.08 478.81,239.82 484.81,241.41 490.80,242.87 496.80,244.19 502.80,245.40 508.80,246.49 514.80,247.47 520.79,248.37 526.79,249.17 532.79,249.89 538.79,250.54 544.78,251.12 550.78,251.65 556.78,252.12 562.78,252.54 568.78,252.91 574.77,253.25 580.77,253.55 586.77,253.81 592.77,254.05 598.77,254.27 604.76,254.46 610.76,254.63 616.76,254.78 622.76,254.91 628.75,255.03 634.75,255.14 640.75,255.23 646.75,255.32 652.75,255.39 658.74,255.46" stroke="#000000"/>
<g clip-path="url(#pl)"><text font-size="10.50" stroke-width="0.08" transform="translate(514.80 263.33) scale(0.800 1)" fill="#000000" stroke="#000000">Q25</text></g>
<polyline clip-path="url(#pr)" fill="none" stroke-width="0.80" stroke-linejoin="round" points="64.96,255.82 70.95,255.79 76.95,255.77 82.95,255.73 88.95,255.70 94.95,255.66 100.94,255.61 106.94,255.56 112.94,255.50 118.94,255.44 124.93,255.36 130.93,255.28 136.93,255.18 142.93,255.08 148.93,254.95 154.92,254.81 160.92,254.66 166.92,254.48 172.92,254.28 178.92,254.05 184.91,253.80 190.91,253.51 196.91,253.18 202.91,252.81 208.90,252.40 214.90,251.93 220.90,251.41 226.90,250.82 232.90,250.15 238.89,249.40 244.89,248.57 250.89,247.63 256.89,246.58 262.89,245.42 268.88,244.12 274.88,242.67 280.88,241.07 286.88,239.31 292.87,237.36 298.87,235.23 304.87,232.90 310.87,230.37 316.87,227.64 322.86,224.70 328.86,221.56 334.86,218.25 340.86,214.76 346.86,211.14 352.85,207.42 358.85,203.65 364.85,199.88 370.85,196.17 376.84,192.59 382.84,189.22 388.84,186.14 394.84,183.43 400.84,181.15 406.83,179.38 412.83,178.16 418.83,177.53 424.83,177.51 430.83,178.10 436.82,179.29 442.82,181.03 448.82,183.28 454.82,185.97 460.81,189.03 466.81,192.38 472.81,195.94 478.81,199.65 484.81,203.42 490.80,207.20 496.80,210.92 502.80,214.55 508.80,218.04 514.80,221.37 520.79,224.51 526.79,227.46 532.79,230.21 538.79,232.75 544.78,235.09 550.78,237.24 556.78,239.19 562.78,240.97 568.78,242.58 574.77,244.03 580.77,245.34 586.77,246.52 592.77,247.57 598.77,248.51 604.76,249.36 610.76,250.11 616.76,250.78 622.76,251.37 628.75,251.90 634.75,252.37 640.75,252.79 646.75,253.16 652.75,253.49 658.74,253.78" stroke="#FF0000"/>
<g clip-path="url(#pl)"><text font-size="10.50" stroke-width="0.08" transform="translate(532.79 246.07) scale(0.800 1)" fill="#FF0000" stroke="#FF0000">Q26</text></g>
<polyline clip-path="url(#pr)" fill="none" stroke-width="0.80" stroke-linejoin="round" points="64.96,253.14 70.95,252.67 76.95,252.13 82.95,251.50 88.95,250.78 94.95,249.94 100.94,248.96 106.94,247.84 112.94,246.54 118.94,245.05 124.93,243.34 130.93,241.38 136.93,239.14 142.93,236.59 148.93,233.69 154.92,230.43 160.92,226.76 166.92,222.65 172.92,218.10 178.92,213.10 184.91,207.63 190.91,201.74 196.91,195.45 202.91,188.84 208.90,182.01 214.90,175.08 220.90,168.21 226.90,161.59 232.90,155.42 238.89,149.92 244.89,145.29 250.89,141.73 256.89,139.38 262.89,138.36 268.88,138.71 274.88,140.43 280.88,143.41 286.88,147.55 292.87,152.65 298.87,158.52 304.87,164.95 310.87,171.72 316.87,178.64 322.86,185.54 328.86,192.27 334.86,198.72 340.86,204.82 346.86,210.49 352.85,215.73 358.85,220.50 364.85,224.82 370.85,228.69 376.84,232.15 382.84,235.23 388.84,237.94 394.84,240.33 400.84,242.42 406.83,244.25 412.83,245.84 418.83,247.23 424.83,248.44 430.83,249.48 436.82,250.38 442.82,251.16 448.82,251.84 454.82,252.42 460.81,252.92 466.81,253.35 472.81,253.73 478.81,254.05 484.81,254.32 490.80,254.56 496.80,254.76 502.80,254.94 508.80,255.09 514.80,255.22 520.79,255.33 526.79,255.42 532.79,255.50 538.79,255.57 544.78,255.64 550.78,255.69 556.78,255.73 562.78,255.77 568.78,255.80 574.77,255.83 580.77,255.85 586.77,255.87 592.77,255.89 598.77,255.91 604.76,255.92 610.76,255.93 616.76,255.94 622.76,255.95 628.75,255.96 634.75,255.96 640.75,255.97 646.75,255.97 652.75,255.98 658.74,255.98" stroke="#00CD00"/>
<g clip-path="url(#pl)"><text font-size="10.50" stroke-width="0.08" transform="translate(550.78 271.55) scale(0.800 1)" fill="#00CD00" stroke="#00CD00">Q27</text></g>
<polyline clip-path="url(#pr)" fill="none" stroke-width="0.80" stroke-linejoin="round" points="64.96,255.62 70.95,255.56 76.95,255.49 82.95,255.40 88.95,255.30 94.95,255.18 100.94,255.04 106.94,254.88 112.94,254.70 118.94,254.48 124.93,254.22 130.93,253.93 136.93,253.58 142.93,253.18 148.93,252.71 154.92,252.16 160.92,251.53 166.92,250.79 172.92,249.93 178.92,248.94 184.91,247.79 190.91,246.46 196.91,244.93 202.91,243.16 208.90,241.13 214.90,238.81 220.90,236.15 226.90,233.14 232.90,229.72 238.89,225.87 244.89,221.56 250.89,216.78 256.89,211.50 262.89,205.73 268.88,199.50 274.88,192.85 280.88,185.87 286.88,178.65 292.87,171.35 298.87,164.14 304.87,157.22 310.87,150.82 316.87,145.18 322.86,140.51 328.86,137.02 334.86,134.87 340.86,134.16 346.86,134.92 352.85,137.12 358.85,140.65 364.85,145.35 370.85,151.03 376.84,157.45 382.84,164.38 388.84,171.60 394.84,178.90 400.84,186.11 406.83,193.09 412.83,199.72 418.83,205.93 424.83,211.68 430.83,216.95 436.82,221.72 442.82,226.01 448.82,229.84 454.82,233.25 460.81,236.25 466.81,238.89 472.81,241.21 478.81,243.23 484.81,244.98 490.80,246.51 496.80,247.83 502.80,248.98 508.80,249.96 514.80,250.82 520.79,251.55 526.79,252.18 532.79,252.73 538.79,253.19 544.78,253.59 550.78,253.94 556.78,254.23 562.78,254.49 568.78,254.70 574.77,254.89 580.77,255.05 586.77,255.19 592.77,255.30 598.77,255.40 604.76,255.49 610.76,255.56 616.76,255.63 622.76,255.68 628.75,255.73 634.75,255.77 640.75,255.80 646.75,255.83 652.75,255.85 658.74,255.87" stroke="#0000FF"/>
<g clip-path="url(#pl)"><text font-size="10.50" stroke-width="0.08" transform="translate(562.78 270.35) scale(0.800 1)" fill="#0000FF" stroke="#0000FF">Q28</text></g>
<polyline clip-path="url(#pr)" fill="none" stroke-width="0.80" stroke-linejoin="round" points="64.96,255.75 70.95,255.70 76.95,255.64 82.95,255.56 88.95,255.46 94.95,255.35 100.94,255.20 106.94,255.03 112.94,254.82 118.94,254.57 124.93,254.26 130.93,253.88 136.93,253.43 142.93,252.87 148.93,252.20 154.92,251.39 160.92,250.40 166.92,249.21 172.92,247.77 178.92,246.03 184.91,243.94 190.91,241.42 196.91,238.41 202.91,234.81 208.90,230.52 214.90,225.45 220.90,219.48 226.90,212.50 232.90,204.42 238.89,195.14 244.89,184.63 250.89,172.91 256.89,160.05 262.89,146.26 268.88,131.85 274.88,117.27 280.88,103.12 286.88,90.06 292.87,78.85 298.87,70.18 304.87,64.65 310.87,62.68 316.87,64.41 322.86,69.71 328.86,78.19 334.86,89.26 340.86,102.22 346.86,116.32 352.85,130.89 358.85,145.32 364.85,159.17 370.85,172.09 376.84,183.90 382.84,194.49 388.84,203.84 394.84,212.01 400.84,219.05 406.83,225.09 412.83,230.22 418.83,234.55 424.83,238.19 430.83,241.24 436.82,243.79 442.82,245.91 448.82,247.67 454.82,249.12 460.81,250.33 466.81,251.33 472.81,252.15 478.81,252.83 484.81,253.39 490.80,253.86 496.80,254.24 502.80,254.55 508.80,254.81 514.80,255.02 520.79,255.19 526.79,255.34 532.79,255.46 538.79,255.55 544.78,255.63 550.78,255.70 556.78,255.75 562.78,255.80 568.78,255.83 574.77,255.86 580.77,255.89 586.77,255.91 592.77,255.92 598.77,255.94 604.76,255.95 610.76,255.96 616.76,255.97 622.76,255.97 628.75,255.98 634.75,255.98 640.75,255.98 646.75,255.99 652.75,255.99 658.74,255.99" stroke="#00FFFF"/>
<g clip-path="url(#pl)"><text font-size="10.50" stroke-width="0.08" transform="translate(580.77 271.75) scale(0.800 1)" fill="#00FFFF" stroke="#00FFFF">Q29</text></g>
<polyline clip-path="url(#pr)" fill="none" stroke-width="0.80" stroke-linejoin="round" points="64.96,253.33 70.95,252.91 76.95,252.43 82.95,251.87 88.95,251.23 94.95,250.48 100.94,249.63 106.94,248.65 112.94,247.52 118.94,246.23 124.93,244.76 130.93,243.07 136.93,241.16 142.93,238.98 148.93,236.52 154.92,233.74 160.92,230.63 166.92,227.15 172.92,223.30 178.92,219.04 184.91,214.39 190.91,209.35 196.91,203.93 202.91,198.19 208.90,192.19 214.90,186.01 220.90,179.76 226.90,173.59 232.90,167.64 238.89,162.10 244.89,157.13 250.89,152.93 256.89,149.64 262.89,147.40 268.88,146.31 274.88,146.41 280.88,147.70 286.88,150.12 292.87,153.58 298.87,157.92 304.87,163.00 310.87,168.62 316.87,174.62 322.86,180.82 328.86,187.06 334.86,193.22 340.86,199.18 346.86,204.87 352.85,210.22 358.85,215.20 364.85,219.79 370.85,223.97 376.84,227.77 382.84,231.18 388.84,234.23 394.84,236.95 400.84,239.37 406.83,241.50 412.83,243.37 418.83,245.02 424.83,246.46 430.83,247.72 436.82,248.82 442.82,249.78 448.82,250.62 454.82,251.34 460.81,251.97 466.81,252.51 472.81,252.99 478.81,253.40 484.81,253.75 490.80,254.06 496.80,254.32 502.80,254.55 508.80,254.75 514.80,254.92 520.79,255.07 526.79,255.20 532.79,255.31 538.79,255.40 544.78,255.48 550.78,255.55 556.78,255.62 562.78,255.67 568.78,255.71 574.77,255.75 580.77,255.79 586.77,255.82 592.77,255.84 598.77,255.86 604.76,255.88 610.76,255.90 616.76,255.91 622.76,255.92 628.75,255.93 634.75,255.94 640.75,255.95 646.75,255.96 652.75,255.96 658.74,255.97" stroke="#FF00FF"/>
<g clip-path="url(#pl)"><text font-size="10.50" stroke-width="0.08" transform="translate(598.77 271.72) scale(0.800 1)" fill="#FF00FF" stroke="#FF00FF">Q30</text></g>
<g fill="#000" stroke="#000" stroke-width="0.06" text-anchor="middle" font-size="11.00">
<text transform="translate(49.33 287.00) scale(0.850 1)">-4</text>
<text transform="translate(205.59 287.00) scale(0.850 1)">-2</text>
<text transform="translate(361.85 287.00) scale(0.850 1)">0</text>
<text transform="translate(518.11 287.00) scale(0.850 1)">2</text>
<text transform="translate(674.37 287.00) scale(0.850 1)">4</text>
<text transform="translate(27.90 256.00) rotate(-90) scale(1 0.900)">0.0</text>
<text transform="translate(27.90 196.87) rotate(-90) scale(1 0.900)">0.5</text>
<text transform="translate(27.90 137.73) rotate(-90) scale(1 0.900)">1.0</text>
<text transform="translate(27.90 78.59) rotate(-90) scale(1 0.900)">1.5</text>
<text transform="translate(361.85 312.00) scale(0.850 1)">Ability</text>
<text transform="translate(8.90 147.50) rotate(-90) scale(1 0.900)">Information</text>
<text transform="translate(361.85 10.70) scale(0.845 1)" font-size="12.50" font-weight="bold" stroke-width="0.00">Item Information Curves</text>
</g></g></svg></body></html>
